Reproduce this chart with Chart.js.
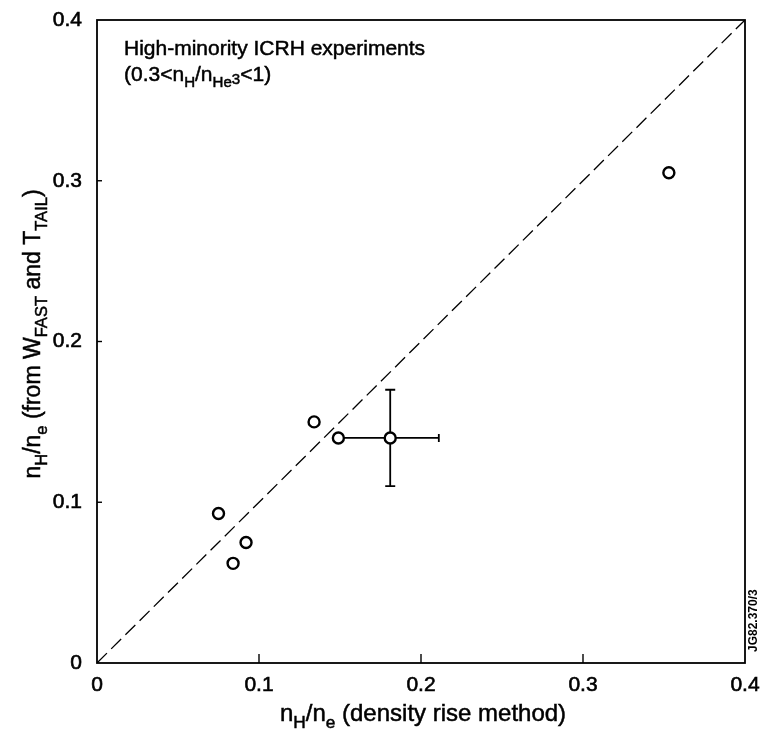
<!DOCTYPE html>
<html>
<head>
<meta charset="utf-8">
<script src="https://cdn.jsdelivr.net/npm/chart.js@4.4.0/dist/chart.umd.min.js"></script>
<style>
  html, body { margin: 0; padding: 0; background: #fff; }
  #wrap { width: 762px; height: 733px; }
</style>
</head>
<body>
<div id="wrap"><canvas id="chart"></canvas></div>
<script>
// measured points (x: density rise method, y: from W_FAST and T_TAIL)
const xVals = [0.075, 0.084, 0.092, 0.134, 0.149, 0.181, 0.353];
const yVals = [0.093, 0.062, 0.075, 0.150, 0.140, 0.140, 0.305];
// error bars (only one point has them)
const errIndex = [5];
const errX = [0.030];
const errY = [0.030];
// dashed line y = x
const lineX = [0, 0.4];
const lineY = [0, 0.4];
const tickVals = [0, 0.1, 0.2, 0.3, 0.4];
const tickLabels = ['0', '0.1', '0.2', '0.3', '0.4'];

const FONT = '"Liberation Sans", Arial, Helvetica, sans-serif';

// draws text with subscripts; parts = [[text, level]], level 0 normal, 1 sub, 2 sub-raised
function richText(ctx, parts, x, y, size, align) {
    const fontFor = p => (p[1] ? size * 0.72 : size) + 'px ' + FONT;
    const w = parts.reduce((s, p) => {
        ctx.font = fontFor(p);
        return s + ctx.measureText(p[0]).width;
    }, 0);
    let cx = align === 'center' ? x - w / 2 : x;
    ctx.textAlign = 'left';
    ctx.textBaseline = 'alphabetic';
    ctx.lineWidth = 0.5;
    ctx.strokeStyle = '#000';
    parts.forEach(p => {
        ctx.font = fontFor(p);
        let dy = 0;
        if (p[1] === 1) dy = size * 0.3;
        if (p[1] === 2) dy = size * 0.12;
        ctx.fillText(p[0], cx, y + dy);
        ctx.strokeText(p[0], cx, y + dy);
        cx += ctx.measureText(p[0]).width;
    });
}

const extras = {
    id: 'extras',
    beforeDatasetsDraw(chart) {
        const ctx = chart.ctx;
        const xs = chart.scales.x, ys = chart.scales.y;
        const a = chart.chartArea;
        ctx.save();
        ctx.strokeStyle = '#000';
        ctx.lineWidth = 1.8;
        // frame
        ctx.strokeRect(a.left, a.top, a.right - a.left, a.bottom - a.top);
        // inward ticks
        ctx.lineWidth = 1.4;
        [0.1, 0.2, 0.3].forEach(v => {
            const px = xs.getPixelForValue(v);
            ctx.beginPath(); ctx.moveTo(px, a.bottom); ctx.lineTo(px, a.bottom - 9); ctx.stroke();
            const py = ys.getPixelForValue(v);
            ctx.beginPath(); ctx.moveTo(a.left, py); ctx.lineTo(a.left + 5, py); ctx.stroke();
        });
        // error bars
        ctx.lineWidth = 1.8;
        errIndex.forEach((i, k) => {
            const cx = xs.getPixelForValue(xVals[i]);
            const cy = ys.getPixelForValue(yVals[i]);
            const x0 = xs.getPixelForValue(xVals[i] - errX[k]);
            const x1 = xs.getPixelForValue(xVals[i] + errX[k]);
            const y0 = ys.getPixelForValue(yVals[i] - errY[k]);
            const y1 = ys.getPixelForValue(yVals[i] + errY[k]);
            ctx.beginPath();
            ctx.moveTo(x0, cy); ctx.lineTo(x1, cy);
            ctx.moveTo(cx, y0); ctx.lineTo(cx, y1);
            ctx.moveTo(x0, cy - 4); ctx.lineTo(x0, cy + 4);
            ctx.moveTo(x1, cy - 4); ctx.lineTo(x1, cy + 4);
            ctx.moveTo(cx - 5, y0); ctx.lineTo(cx + 5, y0);
            ctx.moveTo(cx - 5, y1); ctx.lineTo(cx + 5, y1);
            ctx.stroke();
        });
        ctx.restore();
    },
    afterDraw(chart) {
        const ctx = chart.ctx;
        ctx.save();
        ctx.fillStyle = '#000';
        // annotation
        richText(ctx, [['High-minority ICRH experiments', 0]], 124, 55, 21, 'left');
        richText(ctx, [['(0.3<n', 0], ['H', 1], ['/n', 0], ['He', 1], ['3', 2], ['<1)', 0]], 124, 81, 21, 'left');
        // x title
        richText(ctx, [['n', 0], ['H', 1], ['/n', 0], ['e', 1], [' (density rise method)', 0]], 423, 721, 24, 'center');
        // y title
        ctx.save();
        ctx.translate(40, 334);
        ctx.rotate(-Math.PI / 2);
        richText(ctx, [['n', 0], ['H', 1], ['/n', 0], ['e', 1], [' (from W', 0], ['FAST', 1], [' and T', 0], ['TAIL', 1], [')', 0]], 0, 0, 23, 'center');
        ctx.restore();
        // figure id
        ctx.save();
        ctx.translate(757, 652);
        ctx.rotate(-Math.PI / 2);
        ctx.font = 'bold 12px ' + FONT;
        ctx.textAlign = 'left';
        ctx.fillText('JG82.370/3', 0, 0);
        ctx.restore();
        ctx.restore();
    }
};

new Chart(document.getElementById('chart'), {
    type: 'scatter',
    data: {
        datasets: [{
            type: 'line',
            data: lineX.map((x, i) => ({ x: x, y: lineY[i] })),
            borderColor: '#000',
            borderWidth: 1.3,
            borderDash: [14, 6],
            pointRadius: 0,
            fill: false
        }, {
            data: xVals.map((x, i) => ({ x: x, y: yVals[i] })),
            pointRadius: 5.5,
            pointBorderWidth: 2.4,
            pointBorderColor: '#000',
            pointBackgroundColor: '#fff'
        }]
    },
    options: {
        responsive: true,
        maintainAspectRatio: false,
        animation: false,
        layout: { padding: { left: 0, right: 17, top: 20, bottom: 0 } },
        plugins: { legend: { display: false }, tooltip: { enabled: false } },
        scales: {
            x: {
                type: 'linear', min: 0, max: 0.4,
                afterFit: s => { s.height = 70; },
                afterBuildTicks: s => { s.ticks = tickVals.map(v => ({ value: v })); },
                grid: { display: false },
                border: { display: false },
                ticks: {
                    color: '#000', padding: 2,
                    textStrokeColor: '#000', textStrokeWidth: 0.6,
                    font: { family: FONT, size: 21 },
                    callback: (v) => tickLabels[tickVals.indexOf(v)] ?? ''
                }
            },
            y: {
                type: 'linear', min: 0, max: 0.4,
                afterFit: s => { s.width = 97; },
                afterBuildTicks: s => { s.ticks = tickVals.map(v => ({ value: v })); },
                grid: { display: false },
                border: { display: false },
                ticks: {
                    color: '#000', padding: 7,
                    textStrokeColor: '#000', textStrokeWidth: 0.6,
                    font: { family: FONT, size: 21 },
                    callback: (v) => tickLabels[tickVals.indexOf(v)] ?? ''
                }
            }
        }
    },
    plugins: [extras]
});
</script>
</body>
</html>
